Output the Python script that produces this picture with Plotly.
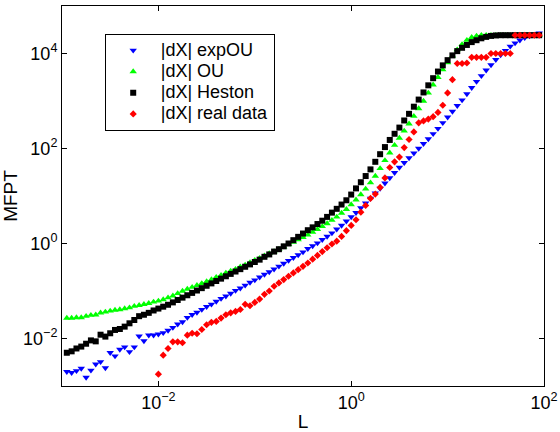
import plotly.graph_objects as go

# log10 of the window length L (marker positions along x)
L_log10 = [-2.95, -2.90, -2.85, -2.80, -2.75, -2.70, -2.65, -2.60, -2.55, -2.50,
           -2.45, -2.40, -2.35, -2.30, -2.25, -2.20, -2.15, -2.10, -2.05, -2.00,
           -1.95, -1.90, -1.85, -1.80, -1.75, -1.70, -1.65, -1.60, -1.55, -1.50,
           -1.45, -1.40, -1.35, -1.30, -1.25, -1.20, -1.15, -1.10, -1.05, -1.00,
           -0.95, -0.90, -0.85, -0.80, -0.75, -0.70, -0.65, -0.60, -0.55, -0.50,
           -0.45, -0.40, -0.35, -0.30, -0.25, -0.20, -0.15, -0.10, -0.05, 0.00,
           0.05, 0.10, 0.15, 0.20, 0.25, 0.30, 0.35, 0.40, 0.45, 0.50,
           0.55, 0.60, 0.65, 0.70, 0.75, 0.80, 0.85, 0.90, 0.95, 1.00,
           1.05, 1.10, 1.15, 1.20, 1.25, 1.30, 1.35, 1.40, 1.45, 1.50,
           1.55, 1.60, 1.65, 1.70, 1.75, 1.80, 1.85, 1.90, 1.95]

# log10 of MFPT
expOU_log10 = [-2.70, -2.72, -2.68, -2.63, -2.82, -2.67, -2.54, -2.49, -2.62, -2.30,
               -2.37, -2.23, -2.18, -2.28, -2.18, -1.95, -2.05, -1.93, -1.93, -1.91,
               -1.88, -1.83, -1.77, -1.70, -1.65, -1.56, -1.50, -1.45, -1.39, -1.33,
               -1.28, -1.22, -1.16, -1.11, -1.05, -0.99, -0.94, -0.88, -0.82, -0.77,
               -0.71, -0.65, -0.60, -0.54, -0.48, -0.42, -0.36, -0.30, -0.24, -0.18,
               -0.11, -0.05, 0.01, 0.08, 0.15, 0.22, 0.30, 0.38, 0.47, 0.56,
               0.65, 0.75, 0.85, 0.95, 1.06, 1.16, 1.27, 1.38, 1.49, 1.60,
               1.70, 1.80, 1.90, 2.00, 2.10, 2.20, 2.31, 2.42, 2.54, 2.66,
               2.78, 2.90, 3.02, 3.15, 3.28, 3.41, 3.53, 3.65, 3.76, 3.87,
               3.97, 4.06, 4.15, 4.22, 4.28, 4.33, 4.37, 4.40, 4.43]

OU_log10 = [-1.57, -1.57, -1.56, -1.56, -1.53, -1.51, -1.50, -1.46, -1.44, -1.42,
            -1.40, -1.39, -1.37, -1.35, -1.32, -1.30, -1.28, -1.26, -1.23, -1.21,
            -1.18, -1.14, -1.10, -1.05, -1.00, -0.96, -0.92, -0.88, -0.84, -0.80,
            -0.76, -0.71, -0.67, -0.62, -0.58, -0.54, -0.49, -0.45, -0.40, -0.35,
            -0.31, -0.26, -0.21, -0.17, -0.12, -0.07, -0.02, 0.03, 0.08, 0.13,
            0.18, 0.24, 0.30, 0.36, 0.42, 0.49, 0.56, 0.64, 0.72, 0.82,
            0.92, 1.03, 1.15, 1.28, 1.42, 1.58, 1.75, 1.91, 2.07, 2.22,
            2.37, 2.52, 2.68, 2.84, 3.00, 3.17, 3.34, 3.50, 3.66, 3.81,
            3.95, 4.08, 4.19, 4.28, 4.34, 4.37, 4.385, 4.385, 4.385, 4.385,
            4.385, 4.385, 4.385, 4.385, 4.385, 4.385, 4.385, 4.385, 4.385]

Heston_log10 = [-2.30, -2.27, -2.21, -2.17, -2.11, -2.04, -2.06, -1.92, -1.96, -1.89,
                -1.82, -1.80, -1.75, -1.68, -1.61, -1.53, -1.50, -1.46, -1.41, -1.37,
                -1.33, -1.29, -1.24, -1.19, -1.14, -1.09, -1.04, -0.99, -0.94, -0.89,
                -0.84, -0.79, -0.74, -0.69, -0.64, -0.59, -0.54, -0.49, -0.44, -0.39,
                -0.34, -0.28, -0.23, -0.17, -0.12, -0.06, 0.00, 0.07, 0.14, 0.21,
                0.28, 0.34, 0.41, 0.48, 0.56, 0.65, 0.73, 0.82, 0.91, 1.03,
                1.16, 1.29, 1.42, 1.56, 1.72, 1.88, 2.03, 2.18, 2.31, 2.44,
                2.59, 2.73, 2.88, 3.03, 3.18, 3.33, 3.48, 3.62, 3.75, 3.86,
                3.96, 4.05, 4.12, 4.18, 4.24, 4.28, 4.32, 4.35, 4.37, 4.38,
                4.385, 4.385, 4.385, 4.385, 4.385, 4.385, 4.385, 4.385, 4.385]

real_log10 = [None, None, None, None, None, None, None, None, None, None,
              None, None, None, None, None, None, None, None, None, -2.75,
              -2.35, -2.21, -2.07, -2.07, -2.09, -1.93, -1.89, -1.90, -1.81, -1.71,
              -1.66, -1.64, -1.57, -1.50, -1.46, -1.43, -1.39, -1.28, -1.31, -1.24,
              -1.17, -1.07, -1.00, -0.90, -0.83, -0.76, -0.69, -0.62, -0.55, -0.48,
              -0.41, -0.33, -0.25, -0.17, -0.09, -0.01, 0.05, 0.15, 0.27, 0.38,
              0.50, 0.66, 0.80, 0.95, 1.04, 1.18, 1.38, 1.60, 1.72, 1.82,
              2.02, 2.19, 2.35, 2.54, 2.58, 2.62, 2.67, 2.76, 2.91, 3.17,
              3.45, 3.79, 3.79, 3.80, 3.92, 3.92, 3.92, 3.92, 4.00, 4.00,
              4.00, 4.00, 4.00, 4.385, 4.385, 4.385, 4.385, 4.385, 4.385]

series_names = ["|dX| expOU", "|dX| OU", "|dX| Heston", "|dX| real data"]

x_tickvals = [1e-2, 1e0, 1e2]
x_ticktext = ["10<sup>\u22122</sup>", "10<sup>0</sup>", "10<sup>2</sup>"]
y_tickvals = [1e-2, 1e0, 1e2, 1e4]
y_ticktext = ["10<sup>\u22122</sup>", "10<sup>0</sup>", "10<sup>2</sup>", "10<sup>4</sup>"]

L = [10 ** v for v in L_log10]


def to_lin(vals):
    return [None if v is None else 10 ** v for v in vals]


styles = [
    dict(symbol="triangle-down", color="#0000ff", size=6.5),
    dict(symbol="triangle-up", color="#00ff00", size=6.5),
    dict(symbol="square", color="#000000", size=6),
    dict(symbol="diamond", color="#ff0000", size=5.5),
]
all_series = [expOU_log10, OU_log10, Heston_log10, real_log10]

fig = go.Figure()
for name, vals, st in zip(series_names, all_series, styles):
    fig.add_trace(go.Scatter(
        x=L, y=to_lin(vals), mode="markers",
        name='<span style="font-size:18px">' + name + '</span>',
        marker=dict(symbol=st["symbol"], color=st["color"], size=st["size"],
                    line=dict(width=0)),
    ))

font_family = "Liberation Sans, Arial, Helvetica, sans-serif"
axis_common = dict(
    type="log", showgrid=False, zeroline=False,
    showline=True, linecolor="black", linewidth=1, mirror="ticks",
    ticks="inside", ticklen=5, tickcolor="black", tickwidth=1,
    tickfont=dict(family=font_family, size=18, color="black"),
    automargin=False,
)

fig.update_layout(
    width=560, height=432,
    margin=dict(l=62, r=16, t=6, b=46),
    paper_bgcolor="white", plot_bgcolor="white",
    font=dict(family=font_family, color="black"),
    xaxis=dict(axis_common, range=[-3, 2], tickvals=x_tickvals, ticktext=x_ticktext,
               title=dict(text="L", font=dict(size=19), standoff=6)),
    yaxis=dict(axis_common, range=[-3, 5], tickvals=y_tickvals, ticktext=y_ticktext,
               title=dict(text="MFPT", font=dict(size=19), standoff=2)),
    legend=dict(x=0.0886, y=0.927, xanchor="left", yanchor="top",
                bgcolor="white", bordercolor="black", borderwidth=1,
                font=dict(family=font_family, size=14, color="black"),
                itemwidth=45),
    showlegend=True,
)

fig.write_html(
    "out.html",
    config={"displayModeBar": False},
    post_script="document.body.style.margin='0px';document.body.style.overflow='hidden';",
)
